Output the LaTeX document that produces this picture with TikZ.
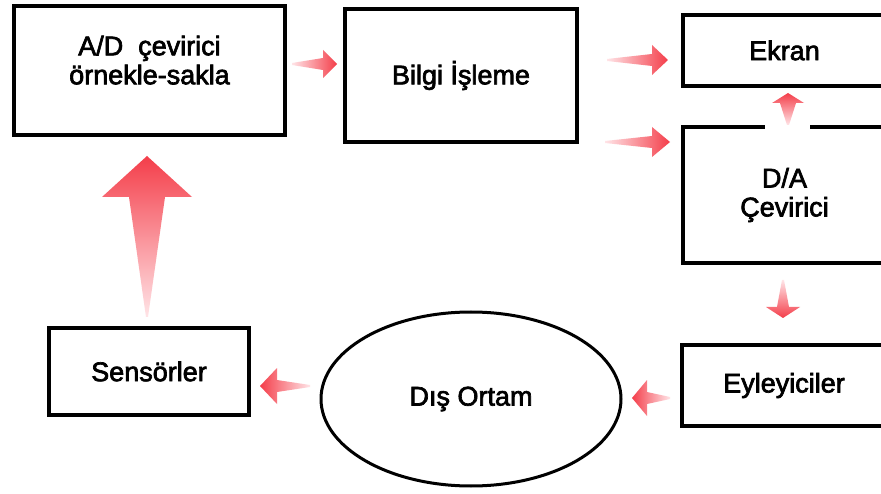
\documentclass[tikz,border=0pt]{standalone}
\usepackage{fontspec}
\setsansfont{Liberation Sans}[FakeBold=2.5]
\usetikzlibrary{calc,shapes.geometric}

\definecolor{arrowred}{RGB}{244,62,74}
\definecolor{arrowpale}{RGB}{255,228,231}

\tikzset{
    box/.style={draw, line width=3.5pt, align=center, inner sep=0pt},
    label font/.style={font=\sffamily\fontsize{27}{29}\selectfont},
    to right/.style={left color=arrowpale, right color=arrowred},
    to left/.style={left color=arrowred, right color=arrowpale},
    to up/.style={top color=arrowred, bottom color=arrowpale},
    to down/.style={top color=arrowpale, bottom color=arrowred},
}

% shaded block arrow: style, from, to, head length, head half width, shaft half width
\newcommand{\fadearrow}[6]{%
    \path coordinate (fa-h) at ($(#3)!#4pt!(#2)$);
    \shade[#1] ($(#2)!1pt!90:(#3)$) -- ($(fa-h)!#6pt!90:(#3)$) -- ($(fa-h)!#5pt!90:(#3)$)
        -- (#3) -- ($(fa-h)!#5pt!-90:(#3)$) -- ($(fa-h)!#6pt!-90:(#3)$) -- ($(#2)!1pt!-90:(#3)$) -- cycle;
}

\begin{document}
\begin{tikzpicture}[x=1pt, y=-1pt, label font]
    \useasboundingbox[fill=white] (0,0) rectangle (881,494);

    \node[box, minimum width=271, minimum height=129, text depth=21pt] (ad) at (149.5,70.5) {A/D\ \ çevirici\\örnekle-sakla};
    \node[box, minimum width=232, minimum height=133] (bilgi) at (461,75.5) {Bilgi İşleme};
    \node[box, minimum width=203, minimum height=71] (ekran) at (784.5,50.5) {Ekran};
    \node[box, minimum width=203, minimum height=136] (da) at (784.5,195) {D/A\\Çevirici};
    \node[box, minimum width=204, minimum height=81] (eyl) at (784,385.5) {Eyleyiciler};
    \node[box, minimum width=200, minimum height=87] (sens) at (149,371.5) {Sensörler};
    \node[draw, ellipse, line width=3pt, minimum width=300, minimum height=174, inner sep=0pt] (dis) at (471,399) {Dış Ortam};

    % gap in the D/A top border under the small arrow
    \fill[white] (765,121) rectangle (810,132);

    \coordinate (a1s) at (292,64);  \coordinate (a1e) at (337,64);
    \coordinate (a2s) at (607,60);  \coordinate (a2e) at (668,60);
    \coordinate (a3s) at (605,142); \coordinate (a3e) at (670,142);
    \coordinate (a4s) at (788,125); \coordinate (a4e) at (788,93);
    \coordinate (a5s) at (783,280); \coordinate (a5e) at (783,318);
    \coordinate (a6s) at (670,398); \coordinate (a6e) at (632,398);
    \coordinate (a7s) at (310,386); \coordinate (a7e) at (260,386);
    \coordinate (a8s) at (147,317); \coordinate (a8e) at (147,156);

    \fadearrow{to right}{a1s}{a1e}{14}{14}{6}
    \fadearrow{to right}{a2s}{a2e}{16}{15}{6}
    \fadearrow{to right}{a3s}{a3e}{18}{15}{6}
    \fadearrow{to up}{a4s}{a4e}{10}{16}{8}
    \fadearrow{to down}{a5s}{a5e}{11}{17}{6}
    \fadearrow{to left}{a6s}{a6e}{15}{18}{6}
    \fadearrow{to left}{a7s}{a7e}{17}{18}{6}
    \fadearrow{to up}{a8s}{a8e}{41}{45}{18}

\end{tikzpicture}
\end{document}
